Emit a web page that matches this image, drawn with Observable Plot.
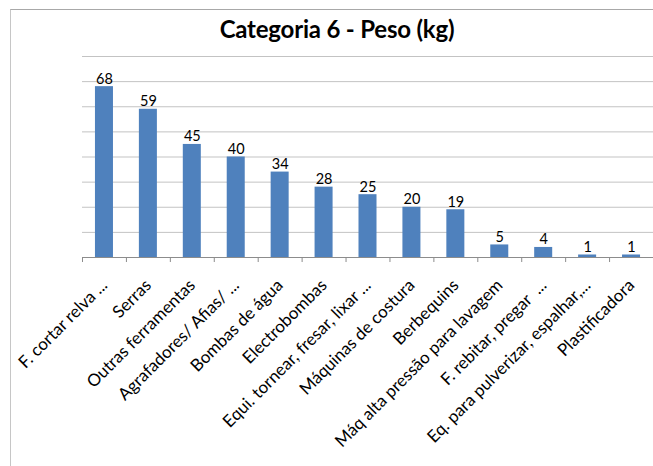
<!DOCTYPE html>
<html><head><meta charset="utf-8">
<script src="https://cdn.jsdelivr.net/npm/d3@7"></script>
<script src="https://cdn.jsdelivr.net/npm/@observablehq/plot@0.6"></script>
<style>
html,body{margin:0;padding:0;overflow:hidden;background:#fff;width:653px;height:466px;}
#frame{position:absolute;left:10px;top:9px;width:700px;height:520px;border:1px solid #c6c6c6;border-top-color:#a8a8a8;box-sizing:border-box;}
#title{position:absolute;left:0;top:14px;width:674px;text-align:center;font-family:Lato;font-weight:bold;font-size:24px;color:#000;letter-spacing:-0.2px;}
#chart{position:absolute;left:0;top:0;}
</style></head><body>
<div id="frame"></div>
<div id="title">Categoria 6 - Peso (kg)</div>
<div id="chart"></div>
<script>
const categories = [
  "F. cortar relva ...",
  "Serras",
  "Outras ferramentas",
  "Agrafadores/ Afias/ ...",
  "Bombas de água",
  "Electrobombas",
  "Equi. tornear, fresar, lixar ...",
  "Máquinas de costura",
  "Berbequins",
  "Máq alta pressão para lavagem",
  "F. rebitar, pregar  ...",
  "Eq. para pulverizar, espalhar,...",
  "Plastificadora"
];
const values = [68, 59, 45, 40, 34, 28, 25, 20, 19, 5, 4, 1, 1];
const gridTicks = [10, 20, 30, 40, 50, 60, 70, 80];

const data = categories.map((c, i) => ({category: c, value: values[i]}));

const W = 653, H = 466, ML = 82, MR = 0;
const step = (W - ML - MR) / categories.length;

const chart = Plot.plot({
  width: W,
  height: H,
  marginLeft: ML,
  marginRight: MR,
  marginTop: 56,
  marginBottom: 209,
  style: {fontFamily: "Lato", fontSize: "15px", color: "#000", background: "transparent"},
  x: {type: "band", domain: categories, paddingInner: 0.59, paddingOuter: 0.295, round: false, axis: null},
  y: {domain: [0, 80], axis: null},
  marks: [
    Plot.ruleY(gridTicks, {stroke: "#c3c3c3", strokeWidth: 1}),
    Plot.barY(data, {x: "category", y: "value", fill: "#4F81BD"}),
    Plot.ruleY([0], {stroke: "#8c8c8c", strokeWidth: 1}),
    Plot.ruleX(categories, {x: d => d, y1: 0, y2: -2, dx: -step / 2, stroke: "#8c8c8c", strokeWidth: 1}),
    Plot.text(data, {x: "category", y: "value", text: d => String(d.value), lineAnchor: "bottom", dy: -3, fontSize: 14.5, fill: "#000"}),
    Plot.axisX({tickSize: 0, tickRotate: -45, tickPadding: 25, dx: 0, fontSize: 17, fill: "#000", label: null})
  ]
});
document.getElementById("chart").appendChild(chart);
</script>
</body></html>
